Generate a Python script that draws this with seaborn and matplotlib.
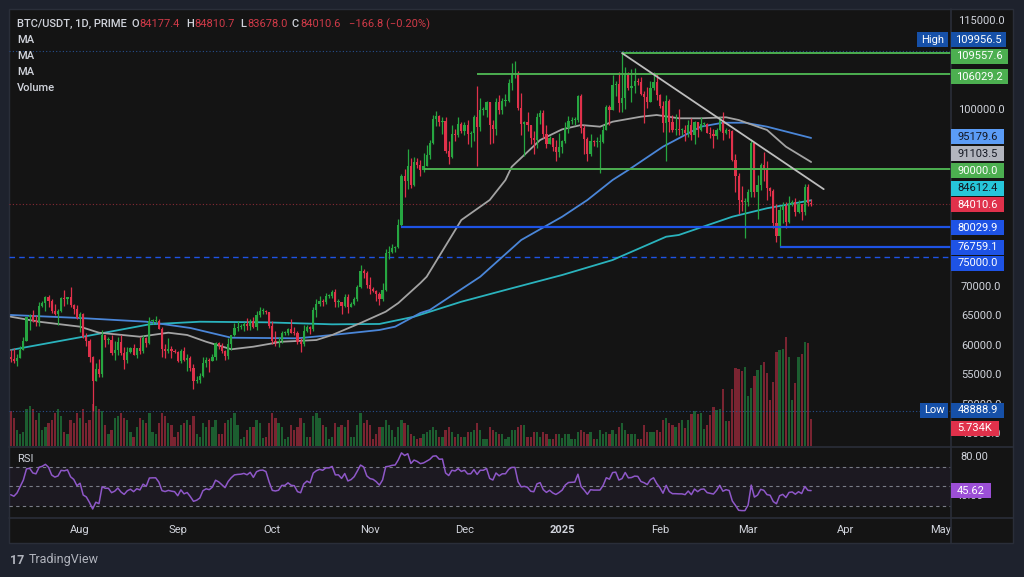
import numpy as np
import pandas as pd
import matplotlib
matplotlib.use("Agg")
import matplotlib.pyplot as plt
import matplotlib.dates as mdates
from matplotlib.patches import Rectangle
from matplotlib.lines import Line2D
import seaborn as sns

# ---------------- data (BTC/USDT daily, PRIME) ----------------
start_date = "2024-07-10"
first_open = 58000.0
# closes of the two weeks before the first visible candle (RSI warm-up)
warmup_closes = [60800, 61600, 60300, 60900, 62700, 62800, 62000, 60200, 57000, 56600, 58200, 55800, 56700, 58000]

close_jul = [57700, 57300, 57900, 59200, 60800, 64800, 65100, 64100, 63900, 66700, 67200, 68200, 67600, 65900, 65400, 65800, 68000, 67900, 68300, 66800, 66200, 64600]
high_jul = [59400, 59500, 58500, 59900, 61400, 64900, 65400, 66100, 65200, 67400, 67600, 68400, 68500, 67800, 67100, 66200, 68200, 69400, 68300, 70000, 67000, 66800]
low_jul = [57200, 57100, 56600, 57800, 59200, 60700, 62700, 63900, 63300, 63300, 66500, 65800, 66600, 65500, 65100, 63500, 65700, 66700, 67100, 66500, 65300, 64500]

close_aug = [65300, 61500, 60700, 58100, 54000, 56000, 55100, 61700, 60900, 60900, 58700, 59300, 60600, 58700, 57500, 58900, 59500, 58400, 59500, 59000, 61200, 60400, 64100, 64200, 64200, 62800, 59400, 59000, 59400, 59100, 58900]
high_aug = [65600, 65500, 62200, 61100, 58300, 57000, 57700, 62700, 61800, 61500, 61800, 60700, 61500, 61800, 59800, 59800, 59700, 60200, 59600, 61400, 61800, 61400, 64900, 64500, 65000, 64500, 63200, 60200, 61200, 59900, 59400]
low_aug = [62300, 61200, 59900, 57200, 48888.9, 53900, 54600, 54700, 59700, 60300, 58400, 57600, 58400, 58400, 56100, 57100, 58800, 58400, 57900, 58600, 58800, 59800, 60300, 63600, 63800, 62800, 58100, 57800, 58800, 57800, 58700]

close_sep = [57300, 59100, 57500, 57900, 56200, 53900, 54200, 54800, 57000, 57600, 57300, 58100, 60500, 60000, 59100, 58200, 60300, 61800, 63000, 63200, 63300, 63600, 63300, 64200, 63100, 65200, 65800, 65900, 65600, 63300]
high_sep = [59000, 59400, 59800, 58500, 58300, 56900, 54800, 55300, 58100, 58000, 57900, 58600, 60600, 60600, 60400, 59200, 61300, 61800, 63800, 64100, 63600, 64000, 64700, 64500, 64800, 65800, 66500, 66300, 66100, 65600]
low_sep = [57200, 57100, 57400, 55600, 55700, 52600, 53700, 53600, 54600, 56400, 55500, 57300, 57600, 59400, 58700, 57500, 57700, 59200, 61600, 62400, 62800, 62400, 62700, 62700, 62900, 62700, 64800, 65400, 65400, 62900]

close_oct = [60800, 60600, 60800, 62100, 62100, 62800, 62200, 62100, 60600, 60300, 62400, 63200, 62800, 66000, 67000, 67600, 67400, 68400, 68400, 69000, 67400, 67400, 66700, 68200, 66600, 67000, 67900, 69900, 72700, 72300, 70200]
high_oct = [64100, 62400, 61500, 62500, 62400, 62900, 64500, 63200, 62500, 61300, 63400, 63500, 63300, 66500, 67900, 68400, 67900, 68900, 68700, 69400, 69500, 67800, 67400, 68800, 68800, 67400, 68300, 70300, 73600, 72900, 72700]
low_oct = [60200, 60000, 59800, 60500, 61700, 61800, 62100, 61800, 60300, 58900, 60000, 62300, 62000, 62400, 64800, 66700, 66700, 67100, 68000, 68100, 66600, 66600, 65300, 66500, 65500, 66500, 66800, 67500, 69700, 71400, 69700]

close_nov = [69500, 69300, 68700, 67800, 69400, 75600, 75900, 76500, 76700, 80400, 88700, 87900, 90500, 87200, 91100, 90600, 89800, 90500, 92300, 94300, 98400, 98900, 97800, 98000, 93000, 91900, 95900, 95600, 97500, 96400]
high_nov = [71600, 70000, 69400, 69000, 70600, 76400, 76900, 77200, 76900, 81500, 89000, 89900, 93300, 91800, 91900, 91800, 91500, 92600, 94000, 94900, 99000, 99800, 99000, 98800, 98700, 94700, 97400, 96700, 98700, 97800]
low_nov = [68800, 69000, 67500, 66800, 67500, 69300, 74600, 75600, 75800, 76500, 80300, 85100, 86600, 86700, 87100, 90100, 88800, 89400, 90400, 91600, 94100, 97200, 97200, 95800, 92600, 90800, 91800, 94600, 95400, 96000]

close_dec = [97300, 95900, 96000, 98800, 97000, 99900, 99900, 101200, 97400, 96700, 101200, 100000, 101400, 101400, 104500, 106100, 106100, 100200, 97500, 97800, 97300, 95200, 94900, 98700, 99400, 95800, 94200, 95200, 93700, 92800, 93600]
high_dec = [97900, 98200, 96300, 99000, 104000, 101900, 100500, 101400, 101300, 98300, 101900, 102500, 102000, 102700, 105200, 107800, 108300, 106500, 102800, 98100, 99500, 97400, 96400, 99400, 99900, 99900, 97300, 95500, 95200, 94900, 96100]
low_dec = [95700, 94200, 93600, 94600, 90500, 96400, 99000, 98800, 94200, 94300, 95700, 99300, 99200, 100600, 101200, 103300, 105300, 100000, 95700, 92200, 96400, 94200, 92400, 93400, 97600, 95100, 93500, 94100, 93000, 91300, 91900]

close_jan = [94600, 96900, 98100, 98200, 98300, 102300, 96900, 95000, 92500, 94700, 94500, 94500, 94500, 96500, 100500, 99900, 104100, 104400, 101100, 102000, 106100, 103700, 103900, 104800, 104700, 102600, 102100, 101300, 103700, 104700, 102400]
high_jan = [94900, 97800, 98900, 98700, 98800, 102500, 102700, 97300, 95400, 95800, 94900, 95400, 95900, 97300, 100700, 100800, 105900, 104900, 106300, 109956.5, 107200, 106300, 106800, 107100, 105300, 105500, 103200, 103800, 104800, 106400, 106000]
low_jan = [92700, 94400, 96000, 97500, 97300, 97900, 96100, 92500, 91200, 92200, 93800, 93700, 89200, 94300, 96500, 97300, 99900, 102300, 99600, 99500, 100100, 103300, 101200, 102800, 104100, 102500, 97700, 100300, 101300, 103300, 101600]

close_feb = [100600, 97700, 101400, 97900, 96600, 96600, 96500, 96500, 96100, 97400, 95700, 97800, 96600, 97500, 97600, 96100, 95800, 95500, 96600, 98300, 96100, 96600, 96300, 91500, 88700, 84700, 84400, 84400]
high_feb = [102700, 101400, 102500, 101700, 99000, 99200, 100100, 96900, 97300, 98300, 98500, 98100, 97900, 98800, 97900, 97700, 97000, 96700, 96900, 98800, 99500, 96900, 96700, 96500, 92500, 89300, 87100, 85000]
low_feb = [100300, 96200, 91200, 96200, 96200, 95700, 95700, 95700, 94700, 95300, 94900, 94100, 95300, 96300, 97200, 96000, 95200, 93400, 95000, 96400, 94900, 95800, 95200, 91200, 86100, 82300, 82800, 78200]

close_mar = [86000, 94300, 86100, 87200, 90600, 89900, 86700, 86200, 80700, 78500, 82900, 83700, 81000, 84000, 84300, 82600, 84000, 82700, 86800, 84177.4, 84010.6]
high_mar = [86600, 95000, 94400, 88900, 91000, 92800, 91200, 86900, 86500, 84000, 83600, 84300, 84300, 85300, 84600, 85000, 84700, 84000, 87400, 87400, 84810.7]
low_mar = [83600, 85100, 85100, 81500, 86400, 87900, 84700, 85300, 80000, 77500, 76759.1, 80800, 79900, 80800, 83700, 82000, 82500, 81200, 82200, 83600, 83678.0]

# volume in thousands (K)
vol_jul = [7.5, 6.0, 3.5, 2.5, 3.0, 8.0, 8.5, 8.0, 5.5, 7.0, 3.5, 4.0, 5.0, 5.5, 7.0, 8.0, 6.5, 3.0, 2.5, 5.5, 5.0, 7.0]
vol_aug = [6.0, 8.0, 5.0, 5.5, 9.0, 8.5, 8.0, 7.5, 4.5, 2.5, 3.5, 6.0, 6.5, 7.0, 6.0, 5.5, 3.0, 2.0, 4.0, 6.0, 5.5, 5.0, 7.0, 3.0, 2.5, 5.0, 7.0, 6.5, 5.0, 4.5, 2.0]
vol_sep = [3.0, 4.5, 5.0, 5.5, 4.5, 6.5, 2.5, 2.0, 5.0, 4.0, 5.5, 4.0, 5.5, 2.5, 2.5, 5.0, 5.5, 6.0, 7.0, 4.5, 1.5, 2.0, 3.5, 4.0, 4.0, 5.5, 5.0, 1.8, 2.0, 5.0]
vol_oct = [7.0, 6.0, 5.0, 4.0, 1.5, 2.0, 4.5, 3.5, 4.0, 6.0, 5.0, 2.0, 2.0, 6.5, 7.0, 6.0, 4.5, 4.0, 1.5, 2.0, 5.0, 4.0, 4.5, 4.0, 5.5, 2.0, 2.0, 4.5, 7.0, 5.0, 5.5]
vol_nov = [4.5, 1.5, 2.5, 4.0, 4.0, 5.6, 4.5, 3.5, 2.0, 4.0, 5.5, 5.0, 4.5, 2.5, 2.2, 1.5, 1.8, 2.5, 3.0, 3.5, 4.0, 3.5, 2.0, 2.0, 3.5, 4.0, 3.0, 2.0, 2.5, 2.0]
vol_dec = [2.0, 3.0, 3.0, 3.5, 5.0, 3.5, 1.5, 1.5, 4.0, 3.5, 3.0, 2.5, 2.5, 1.5, 2.0, 3.5, 3.5, 4.0, 4.5, 4.5, 2.0, 2.0, 3.0, 3.0, 2.0, 3.0, 2.5, 1.5, 1.5, 2.5, 2.5]
vol_jan = [1.8, 2.5, 2.5, 1.5, 1.5, 3.0, 3.5, 3.0, 2.5, 3.0, 1.5, 1.5, 3.5, 2.5, 3.0, 2.5, 3.5, 2.5, 4.0, 5.0, 3.5, 2.5, 2.5, 2.5, 1.5, 1.5, 4.5, 3.0, 3.0, 3.0, 3.5]
vol_feb = [3.0, 5.5, 6.0, 5.0, 4.5, 4.0, 5.0, 5.7, 3.9, 5.6, 6.8, 7.5, 6.8, 7.2, 3.6, 4.5, 6.7, 8.4, 7.7, 8.0, 12.3, 5.4, 5.4, 12.2, 16.7, 16.5, 16.1, 17.0]
vol_mar = [10.8, 12.5, 15.1, 16.3, 17.4, 18.0, 15.6, 9.8, 13.8, 20.3, 20.6, 20.9, 23.4, 19.1, 9.8, 13.6, 19.1, 19.8, 22.4, 22.2, 5.734]

# moving averages (sample points)
ma50_dates = ["2024-07-10", "2024-07-19", "2024-08-01", "2024-08-07", "2024-08-20", "2024-08-29", "2024-09-04", "2024-09-10", "2024-09-18", "2024-09-25", "2024-10-04", "2024-10-15", "2024-10-20", "2024-10-29", "2024-11-06", "2024-11-10", "2024-11-17", "2024-11-19", "2024-11-30", "2024-12-09", "2024-12-14", "2024-12-16", "2024-12-25", "2025-01-01", "2025-01-07", "2025-01-13", "2025-01-17", "2025-01-26", "2025-01-31", "2025-02-07", "2025-02-14", "2025-02-22", "2025-02-26", "2025-03-07", "2025-03-13", "2025-03-21"]
ma50_vals = [64880, 64030, 63190, 62170, 61490, 62170, 61780, 60640, 59360, 59800, 60640, 60930, 61780, 63810, 65730, 67200, 70590, 71660, 81270, 84660, 88050, 90300, 94830, 96640, 97370, 97090, 97930, 98780, 99070, 98510, 98510, 98680, 98220, 96530, 93700, 91103.5]
ma100_dates = ["2024-07-10", "2024-08-01", "2024-08-22", "2024-09-05", "2024-09-18", "2024-10-09", "2024-10-20", "2024-11-04", "2024-11-09", "2024-11-17", "2024-11-20", "2024-12-06", "2024-12-19", "2025-01-01", "2025-01-09", "2025-01-17", "2025-01-22", "2025-02-02", "2025-02-07", "2025-02-14", "2025-02-21", "2025-02-28", "2025-03-07", "2025-03-21"]
ma100_vals = [65170, 64660, 64030, 62970, 61320, 61220, 61780, 62630, 63190, 65510, 66020, 71660, 77880, 81830, 84660, 88050, 89750, 93700, 95120, 97090, 97760, 97760, 97090, 95179.6]
ma200_dates = ["2024-07-10", "2024-08-02", "2024-08-23", "2024-09-08", "2024-09-29", "2024-10-20", "2024-11-04", "2024-11-15", "2024-11-30", "2024-12-16", "2025-01-01", "2025-01-17", "2025-02-03", "2025-02-07", "2025-02-24", "2025-03-07", "2025-03-21"]
ma200_vals = [59240, 61490, 63590, 64030, 63930, 63590, 63650, 64880, 67420, 69700, 71950, 74490, 78440, 78730, 81830, 83260, 84612.4]

# drawn levels
green_levels = [109557.6, 106029.2, 90000.0]
green_starts = ["2025-01-20", "2024-12-05", "2024-11-18"]
blue_levels = [80029.9, 76759.1]
blue_starts = ["2024-11-11", "2025-03-11"]
dashed_level = 75000.0
trend_dates = ["2025-01-20", "2025-03-25"]
trend_vals = [109557.6, 86500.0]
price_high = 109956.5
price_low = 48888.9
rsi_last_label = 45.62

price_ticks = [115000, 105000, 100000, 70000, 65000, 60000, 55000, 50000, 45000]
month_ticks = ["2024-08-01", "2024-09-01", "2024-10-01", "2024-11-01", "2024-12-01", "2025-01-01", "2025-02-01", "2025-03-01", "2025-04-01", "2025-05-01"]
month_labels = ["Aug", "Sep", "Oct", "Nov", "Dec", "2025", "Feb", "Mar", "Apr", "May"]

# ---------------- assemble ----------------
close = np.array(close_jul + close_aug + close_sep + close_oct + close_nov + close_dec + close_jan + close_feb + close_mar, dtype=float)
high = np.array(high_jul + high_aug + high_sep + high_oct + high_nov + high_dec + high_jan + high_feb + high_mar, dtype=float)
low = np.array(low_jul + low_aug + low_sep + low_oct + low_nov + low_dec + low_jan + low_feb + low_mar, dtype=float)
volume = np.array(vol_jul + vol_aug + vol_sep + vol_oct + vol_nov + vol_dec + vol_jan + vol_feb + vol_mar, dtype=float)
open_ = np.concatenate([[first_open], close[:-1]])
high = np.maximum(high, np.maximum(open_, close))
low = np.minimum(low, np.minimum(open_, close))
dates = pd.date_range(start_date, periods=len(close), freq="D")
x = mdates.date2num(dates)

# RSI 14 (Wilder), with warm-up closes
all_close = pd.Series(np.concatenate([warmup_closes, close]).astype(float))
delta = all_close.diff().fillna(0.0)
gain = delta.clip(lower=0).ewm(alpha=1 / 14, adjust=True).mean()
loss = (-delta).clip(lower=0).ewm(alpha=1 / 14, adjust=True).mean()
rsi_all = 100 - 100 / (1 + gain / loss)
rsi = rsi_all.values[len(warmup_closes):]

# ---------------- style ----------------
sns.set_theme(style="dark")
plt.rcParams["font.family"] = ["Roboto", "DejaVu Sans"]
plt.rcParams["axes.unicode_minus"] = True

W, H = 1024, 577
BG_OUT = "#1e222d"
BG = "#141414"
SEP = "#2a2e39"
TXT = "#d1d4dc"
UP = "#26a641"
DOWN = "#e0314b"
VUP = "#1c5e30"
VDOWN = "#7a2431"
GREEN = "#4caf50"
BLUE = "#1e53e5"

fig = plt.figure(figsize=(W / 100, H / 100), dpi=100, facecolor=BG_OUT)


def fx(px):
    return px / W


def fy(py):
    return 1 - py / H


fig.patches.append(Rectangle((fx(9), fy(543)), fx(1013) - fx(9), fy(9) - fy(543),
                             transform=fig.transFigure, facecolor=BG, edgecolor=SEP, lw=1, zorder=-1))

L, R = 9, 950.7
main_rect = [fx(L), fy(446), fx(R) - fx(L), fy(9) - fy(446)]
ax_vol = fig.add_axes(main_rect)
ax = fig.add_axes(main_rect)
ax_rsi = fig.add_axes([fx(L), fy(517), fx(R) - fx(L), fy(447) - fy(517)])
for a in (ax_vol, ax, ax_rsi):
    a.set_facecolor("none")
    for s in a.spines.values():
        s.set_visible(False)
    a.grid(False)
    a.set_yticks([])
ax.set_xticks([])
ax_vol.set_xticks([])

xlim = (x[0] - 0.55, x[0] + 298.3)
for a in (ax_vol, ax, ax_rsi):
    a.set_xlim(*xlim)
ax.set_ylim(42967, 117034)
ax_vol.set_ylim(0, 94.0)
ax_rsi.set_ylim(18.4, 90.6)

# volume
up = close >= open_
ax_vol.bar(x, volume, width=0.72, color=np.where(up, VUP, VDOWN), lw=0)

# reference dotted lines
ax.axhline(price_high, color="#27508f", lw=0.8, ls=(0, (1, 2)))
ax.axhline(price_low, color="#27508f", lw=0.8, ls=(0, (1, 2)))
ax.axhline(close[-1], color="#8a2a35", lw=0.8, ls=(0, (1, 2)))
ax.axhline(dashed_level, color=BLUE, lw=1.0, ls=(0, (4, 3)))

# moving averages
sns.lineplot(x=mdates.date2num(pd.to_datetime(ma200_dates)), y=ma200_vals, ax=ax, color="#2ab3bd", lw=1.3, zorder=3)
sns.lineplot(x=mdates.date2num(pd.to_datetime(ma100_dates)), y=ma100_vals, ax=ax, color="#4a86d8", lw=1.3, zorder=3)
sns.lineplot(x=mdates.date2num(pd.to_datetime(ma50_dates)), y=ma50_vals, ax=ax, color="#a3a3a3", lw=1.3, zorder=3)

# candles
cols = np.where(up, UP, DOWN)
ax.vlines(x, low, high, colors=cols, lw=0.9, zorder=4)
ax.bar(x, np.maximum(np.abs(close - open_), 150), bottom=np.minimum(open_, close),
       width=0.7, color=cols, lw=0, zorder=5)

# horizontal levels
for v, s in zip(green_levels, green_starts):
    ax.hlines(v, mdates.date2num(pd.Timestamp(s)), xlim[1], color=GREEN, lw=1.4, zorder=6)
for v, s in zip(blue_levels, blue_starts):
    ax.hlines(v, mdates.date2num(pd.Timestamp(s)), xlim[1], color=BLUE, lw=1.6, zorder=6)
sns.lineplot(x=mdates.date2num(pd.to_datetime(trend_dates)), y=trend_vals, ax=ax, color="#bdbdbd", lw=1.3, zorder=6)

# RSI panel
ax_rsi.axhspan(30, 70, color="#7e57c2", alpha=0.08, lw=0)
for lv in (70, 50, 30):
    ax_rsi.axhline(lv, color="#787b86", lw=0.8, ls=(0, (3, 3)))
sns.lineplot(x=x, y=rsi, ax=ax_rsi, color="#8e57c8", lw=1.1)
ax_rsi.set_xticks(mdates.date2num(pd.to_datetime(month_ticks)))
ax_rsi.set_xticklabels(month_labels)
ax_rsi.tick_params(axis="x", length=0, pad=6, labelsize=8, labelcolor=TXT)
for t in ax_rsi.get_xticklabels():
    if t.get_text() == "2025":
        t.set_fontweight("bold")
for a in (ax, ax_vol, ax_rsi):
    a.set_xlabel("")
    a.set_ylabel("")

# separators
fig.add_artist(Line2D([fx(9), fx(1013)], [fy(446.5)] * 2, transform=fig.transFigure, color=SEP, lw=1.2))
fig.add_artist(Line2D([fx(9), fx(1013)], [fy(517.5)] * 2, transform=fig.transFigure, color=SEP, lw=1.2))
fig.add_artist(Line2D([fx(951)] * 2, [fy(9), fy(543)], transform=fig.transFigure, color=SEP, lw=1.2))


def ypx(axis, val):
    d = axis.transData.transform((xlim[0], val))
    return H - d[1]


def box(x0, x1, yc, text, face, tc, h=15):
    fig.patches.append(Rectangle((fx(x0), fy(yc + h / 2)), fx(x1) - fx(x0), h / H,
                                 transform=fig.transFigure, facecolor=face, edgecolor="none", zorder=5))
    fig.text(fx((x0 + x1) / 2), fy(yc), text, color=tc, ha="center", va="center", fontsize=8, zorder=6)


# price tick labels (some partly covered by the level boxes, as in TradingView)
for p in price_ticks:
    fig.text(fx(981), fy(ypx(ax, p)), f"{p:.1f}", color=TXT, ha="center", va="center", fontsize=8, zorder=4)

# price boxes
box(917, 948, ypx(ax, price_high) - 11, "High", "#1650a8", "white")
box(951, 1006, ypx(ax, price_high) - 11, f"{price_high:.1f}", "#1650a8", "white")
box(951, 1008, ypx(ax, green_levels[0]) + 3, f"{green_levels[0]:.1f}", GREEN, "white")
box(951, 1008, ypx(ax, green_levels[1]) + 3, f"{green_levels[1]:.1f}", GREEN, "white")
box(951, 1004, ypx(ax, ma100_vals[-1]) - 1, f"{ma100_vals[-1]:.1f}", "#5b9cf6", "#131722")
box(951, 1004, ypx(ax, ma50_vals[-1]) - 8, f"{ma50_vals[-1]:.1f}", "#b2b5be", "#131722")
box(951, 1004, ypx(ax, green_levels[2]) + 2, f"{green_levels[2]:.1f}", GREEN, "white")
box(951, 1004, ypx(ax, ma200_vals[-1]) - 12, f"{ma200_vals[-1]:.1f}", "#26c6da", "#131722")
box(951, 1004, ypx(ax, close[-1]) + 1, f"{close[-1]:.1f}", "#e0314b", "white")
box(951, 1004, ypx(ax, blue_levels[0]) + 0.5, f"{blue_levels[0]:.1f}", BLUE, "white")
box(951, 1004, ypx(ax, blue_levels[1]) + 0.5, f"{blue_levels[1]:.1f}", BLUE, "white")
box(951, 1004, ypx(ax, dashed_level) + 6, f"{dashed_level:.1f}", BLUE, "white")
box(920, 948, ypx(ax, price_low) - 1, "Low", "#1650a8", "white")
box(951, 1004, ypx(ax, price_low) - 1, f"{price_low:.1f}", "#1650a8", "white")
box(951, 999, ypx(ax_vol, volume[-1]) + 9, f"{volume[-1]:.3f}K", "#e0314b", "white")

# RSI axis labels
fig.text(fx(974), fy(ypx(ax_rsi, 80)), "80.00", color=TXT, ha="center", va="center", fontsize=8, zorder=4)
fig.text(fx(970), fy(ypx(ax_rsi, 40)), "40.00", color=TXT, ha="center", va="center", fontsize=8, zorder=4)
box(951, 991, ypx(ax_rsi, rsi_last_label), f"{rsi_last_label:.2f}", "#9c4fd6", "white")

# header legend
chg = close[-1] - open_[-1]
pct = chg / open_[-1] * 100
RED_T = "#d03a48"
y0 = 24
fig.text(fx(17), fy(y0), "BTC/USDT, 1D, PRIME", color=TXT, fontsize=8, va="center", fontweight="medium")
for lab, xl, val, xv in [("O", 131, open_[-1], 139), ("H", 186, high[-1], 194), ("L", 240, low[-1], 247), ("C", 292, close[-1], 300)]:
    fig.text(fx(xl), fy(y0), lab, color=TXT, fontsize=8, va="center", fontweight="medium")
    fig.text(fx(xv), fy(y0), f"{val:.1f}", color=RED_T, fontsize=8, va="center")
fig.text(fx(349), fy(y0), f"{chg:+.1f} ({pct:+.2f}%)".replace("-", "\u2212"), color=RED_T, fontsize=8, va="center")
for i, t in enumerate(["MA", "MA", "MA", "Volume"]):
    fig.text(fx(17), fy(40 + 16 * i), t, color=TXT, fontsize=8, va="center", fontweight="medium")
fig.text(fx(17), fy(459), "RSI", color=TXT, fontsize=8, va="center")

# footer logo
fig.text(fx(10), fy(560), "17", color="#b2b5be", fontsize=9, va="center", fontweight="bold")
fig.text(fx(29), fy(560), "TradingView", color="#b2b5be", fontsize=9, va="center")

fig.savefig("out.png", dpi=100, facecolor=fig.get_facecolor())
